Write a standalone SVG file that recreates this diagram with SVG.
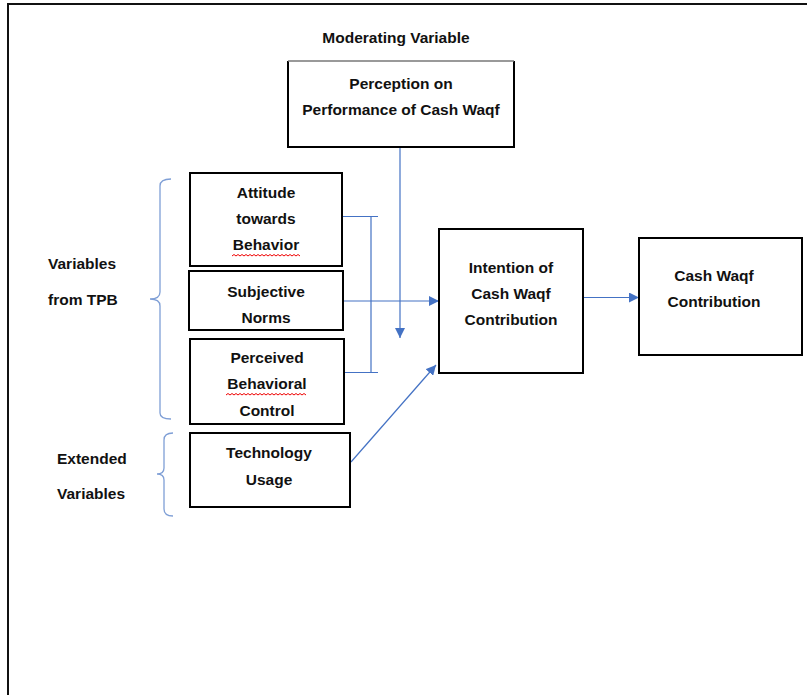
<svg xmlns="http://www.w3.org/2000/svg" width="807" height="695" viewBox="0 0 807 695">
<defs>
<style>
.box{fill:#fff;stroke:#000;stroke-width:2}
.t{font-family:"Liberation Sans",Arial,sans-serif;font-weight:bold;font-size:15.5px;fill:#111;text-anchor:middle}
.tl{font-family:"Liberation Sans",Arial,sans-serif;font-weight:bold;font-size:15.5px;fill:#111}
.c{fill:none;stroke:#4472C4;stroke-width:1.2}
.br{fill:none;stroke:#7f9fd6;stroke-width:1.3}
.sq{fill:none;stroke:#e00;stroke-width:1}
</style>
<marker id="ah" viewBox="0 0 10 10" refX="10" refY="5" markerWidth="10" markerHeight="10" orient="auto" markerUnits="userSpaceOnUse">
<path d="M0,0 L10,5 L0,10 z" fill="#4472C4"/>
</marker>
</defs>
<rect width="807" height="695" fill="#fff"/>
<path d="M8,695 V4 H807" fill="none" stroke="#111" stroke-width="2"/>
<g id="labels">
<text class="t" x="396" y="43">Moderating Variable</text>
<text class="tl" x="48" y="269">Variables</text>
<text class="tl" x="48" y="305">from TPB</text>
<text class="tl" x="57" y="464">Extended</text>
<text class="tl" x="57" y="499">Variables</text>
</g>
<g id="braces">
<path class="br" d="M171,179 Q160,179 160,186 V292 Q160,299 150,299 Q160,299 160,306 V413 Q160,419 171,419"/>
<path class="br" d="M173,433 Q164,433 164,440 V468 Q164,474 157,474 Q164,474 164,480 V509 Q164,516 173,516"/>
</g>
<g id="connectors">
<path class="c" d="M343,216.5 H378 M371,216.5 V372.5 M345,372.5 H378"/>
<line class="c" x1="344" y1="301" x2="439" y2="301" marker-end="url(#ah)"/>
<line class="c" x1="400" y1="148" x2="400" y2="338" marker-end="url(#ah)"/>
<line class="c" x1="351" y1="462" x2="436" y2="365" marker-end="url(#ah)"/>
<line class="c" x1="584" y1="297.5" x2="639" y2="297.5" marker-end="url(#ah)"/>
</g>
<g id="perception">
<rect x="288" y="61" width="226" height="86" fill="#fff" stroke="none"/>
<path d="M288,61 V147 H514 V61" fill="none" stroke="#000" stroke-width="2"/>
<path d="M288,61 H514" fill="none" stroke="#777" stroke-width="1.5"/>
<text class="t" x="401" y="89">Perception on</text>
<text class="t" x="401" y="115">Performance of Cash Waqf</text>
</g>
<g id="attitude">
<rect class="box" x="190" y="173" width="152" height="93"/>
<text class="t" x="266" y="198">Attitude</text>
<text class="t" x="266" y="224">towards</text>
<text class="t" x="266" y="250">Behavior</text>
<path class="sq" d="M232,256 l2,-1.5 l2,1.5 l2,-1.5 l2,1.5 l2,-1.5 l2,1.5 l2,-1.5 l2,1.5 l2,-1.5 l2,1.5 l2,-1.5 l2,1.5 l2,-1.5 l2,1.5 l2,-1.5 l2,1.5 l2,-1.5 l2,1.5 l2,-1.5 l2,1.5 l2,-1.5 l2,1.5 l2,-1.5 l2,1.5 l2,-1.5 l2,1.5 l2,-1.5 l2,1.5 l2,-1.5 l2,1.5 l2,-1.5 l2,1.5 l2,-1.5 l2,1.5"/>
</g>
<g id="subjective">
<rect class="box" x="189" y="271" width="154" height="59"/>
<text class="t" x="266" y="297">Subjective</text>
<text class="t" x="266" y="323">Norms</text>
</g>
<g id="perceived">
<rect class="box" x="190" y="339" width="154" height="85"/>
<text class="t" x="267" y="363">Perceived</text>
<text class="t" x="267" y="389">Behavioral</text>
<text class="t" x="267" y="416">Control</text>
<path class="sq" d="M226,395 l2,-1.5 l2,1.5 l2,-1.5 l2,1.5 l2,-1.5 l2,1.5 l2,-1.5 l2,1.5 l2,-1.5 l2,1.5 l2,-1.5 l2,1.5 l2,-1.5 l2,1.5 l2,-1.5 l2,1.5 l2,-1.5 l2,1.5 l2,-1.5 l2,1.5 l2,-1.5 l2,1.5 l2,-1.5 l2,1.5 l2,-1.5 l2,1.5 l2,-1.5 l2,1.5 l2,-1.5 l2,1.5 l2,-1.5 l2,1.5 l2,-1.5 l2,1.5 l2,-1.5 l2,1.5 l2,-1.5 l2,1.5 l2,-1.5 l2,1.5"/>
</g>
<g id="technology">
<rect class="box" x="190" y="433" width="160" height="74"/>
<text class="t" x="269" y="458">Technology</text>
<text class="t" x="269" y="485">Usage</text>
</g>
<g id="intention">
<rect class="box" x="439" y="229" width="144" height="144"/>
<text class="t" x="511" y="273">Intention of</text>
<text class="t" x="511" y="299">Cash Waqf</text>
<text class="t" x="511" y="325">Contribution</text>
</g>
<g id="contribution">
<rect class="box" x="639" y="238" width="163" height="117"/>
<text class="t" x="714" y="281">Cash Waqf</text>
<text class="t" x="714" y="307">Contribution</text>
</g>
</svg>
